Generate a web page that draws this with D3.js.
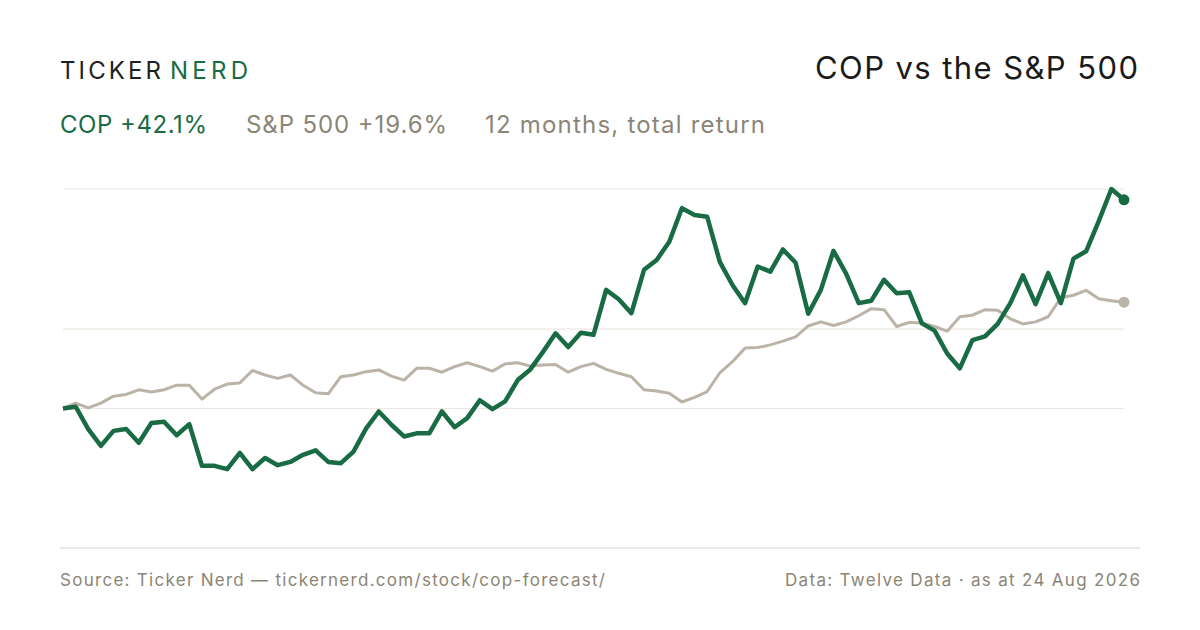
<!DOCTYPE html>
<html>
<head>
<meta charset="utf-8">
<script src="https://cdn.jsdelivr.net/npm/d3@7"></script>
<style>
  body { margin: 0; background: #fff; }
  svg { display: block; font-family: Inter, "Noto Sans", sans-serif; }
</style>
</head>
<body>
<div id="chart"></div>
<script>
// Total return since start, in percent, one sample every ~3 trading days
const copReturns = [
  0, 0.3, -3.4, -6.1, -3.7, -3.4, -5.6, -2.4, -2.2, -4.4,
  -2.6, -9.2, -9.2, -9.7, -7.2, -9.7, -8.0, -9.1, -8.6, -7.5,
  -6.8, -8.6, -8.8, -7.0, -3.3, -0.5, -2.7, -4.6, -4.1, -4.1,
  -0.5, -3.1, -1.6, 1.4, -0.1, 1.2, 4.9, 6.8, 10.0, 13.5,
  10.9, 13.6, 13.2, 22.1, 20.2, 17.4, 26.3, 28.4, 32.4, 40.1,
  38.5, 38.1, 28.0, 23.1, 19.4, 27.0, 25.9, 30.7, 27.8, 17.3,
  22.1, 30.4, 25.5, 19.4, 19.9, 24.2, 21.4, 21.6, 15.4, 14.0,
  9.7, 7.0, 12.2, 12.9, 15.3, 19.4, 25.1, 19.2, 25.6, 19.4,
  28.7, 30.3, 37.1, 44.7, 42.1
];
const spxReturns = [
  0, 0.9, 0.1, 0.9, 2.1, 2.4, 3.2, 2.8, 3.2, 4.0,
  4.0, 1.6, 3.3, 4.2, 4.4, 6.6, 5.8, 5.2, 5.8, 4.0,
  2.7, 2.5, 5.5, 5.8, 6.4, 6.7, 5.6, 4.9, 7.0, 7.0,
  6.3, 7.3, 8.0, 7.3, 6.5, 7.8, 8.0, 7.4, 7.6, 7.7,
  6.3, 7.3, 7.9, 6.8, 6.1, 5.5, 3.2, 3.0, 2.6, 1.1,
  1.9, 2.9, 6.2, 8.2, 10.7, 10.8, 11.3, 12.0, 12.8, 14.9,
  15.7, 15.0, 15.7, 16.9, 18.3, 18.1, 14.8, 15.6, 15.5, 14.8,
  13.9, 16.7, 17.0, 18.1, 18.0, 16.3, 15.3, 15.7, 16.7, 20.5,
  21.0, 22.0, 20.3, 19.9, 19.6
];
const gridReturns = [0, 14.3, 44.7];
const yDomainReturns = [-20.93, 44.7];

const seriesNames = ["COP", "S&P 500"];
const headline = "COP vs the S&P 500";
const periodLabel = "12 months, total return";
const sourceText = "Source: Ticker Nerd \u2014 tickernerd.com/stock/cop-forecast/";
const dataText = "Data: Twelve Data \u00b7 as at 24 Aug 2026";

const W = 1200, H = 630;
const green = "#196b43", grey = "#bbb3a7", muted = "#8b8576";

const svg = d3.select("#chart").append("svg")
  .attr("width", W).attr("height", H);

// scales: returns are plotted on a log scale of the growth index
const toIndex = r => 100 + r;
const x = d3.scaleLinear().domain([0, copReturns.length - 1]).range([63, 1124]);
const y = d3.scaleLog().domain(yDomainReturns.map(toIndex)).range([548, 189]);

// gridlines
svg.append("g")
  .selectAll("line")
  .data(gridReturns)
  .enter().append("line")
  .attr("x1", x(0)).attr("x2", x(copReturns.length - 1))
  .attr("y1", d => y(toIndex(d))).attr("y2", d => y(toIndex(d)))
  .attr("stroke", "#ebe7df").attr("stroke-width", 1.2);

// baseline axis
svg.append("line")
  .attr("x1", 60).attr("x2", 1140)
  .attr("y1", y.range()[0]).attr("y2", y.range()[0])
  .attr("stroke", "#d8d3c7").attr("stroke-width", 1.2);

const line = d3.line()
  .x((d, i) => x(i))
  .y(d => y(toIndex(d)));

// S&P first so COP sits on top
svg.append("path")
  .datum(spxReturns)
  .attr("d", line)
  .attr("fill", "none")
  .attr("stroke", grey)
  .attr("stroke-width", 3)
  .attr("stroke-linejoin", "round");

svg.append("path")
  .datum(copReturns)
  .attr("d", line)
  .attr("fill", "none")
  .attr("stroke", green)
  .attr("stroke-width", 4.5)
  .attr("stroke-linejoin", "round");

// end dots
[[spxReturns, grey], [copReturns, green]].forEach(([s, c]) => {
  svg.append("circle")
    .attr("cx", x(s.length - 1))
    .attr("cy", y(toIndex(s[s.length - 1])))
    .attr("r", 5.5)
    .attr("fill", c);
});

// helper for text set to a given width (the reference face is wider spaced)
function label(txt, xPos, yPos, size, fill, width, anchor) {
  return svg.append("text")
    .attr("x", xPos).attr("y", yPos)
    .attr("text-anchor", anchor || "start")
    .attr("fill", fill)
    .attr("textLength", width)
    .attr("lengthAdjust", "spacing")
    .style("font-size", size + "px")
    .text(txt);
}

// brand
label("TICKER", 60, 79, 24, "#1f1f1f", 101);
label("NERD", 170, 79, 24, green, 78);

// title
label(headline, 1138, 79, 31, "#1a1a1a", 323, "end");

// subtitle legend
const fmt = v => (v >= 0 ? "+" : "") + v.toFixed(1) + "%";
label(seriesNames[0] + " " + fmt(copReturns[copReturns.length - 1]), 60, 133, 24, green, 147);
label(seriesNames[1] + " " + fmt(spxReturns[spxReturns.length - 1]), 246, 133, 24, muted, 201);
label(periodLabel, 485, 133, 24, muted, 280);

// footer
label(sourceText, 60, 586, 17, muted, 545);
label(dataText, 1140, 586, 17, muted, 355, "end");
</script>
</body>
</html>
